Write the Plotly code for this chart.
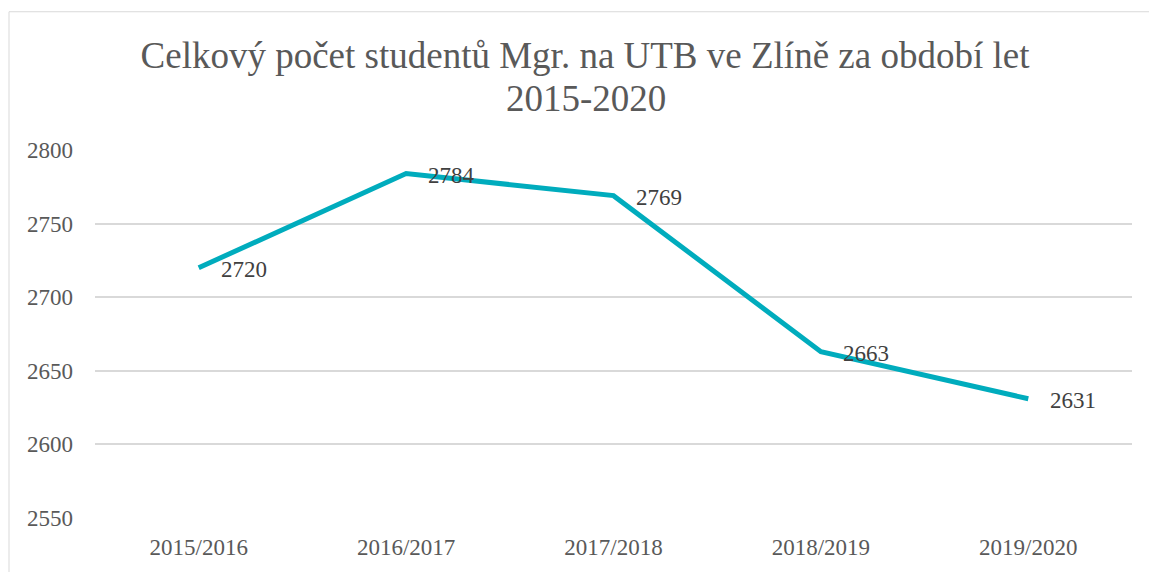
import plotly.graph_objects as go

years = ["2015/2016", "2016/2017", "2017/2018", "2018/2019", "2019/2020"]
students = [2720, 2784, 2769, 2663, 2631]
y_ticks = [2550, 2600, 2650, 2700, 2750, 2800]

title_line1 = "Celkový počet studentů Mgr. na UTB ve Zlíně za období let"
title_line2 = "2015-2020"

W, H = 1149, 572
ml, mr, mt, mb = 95, 17, 150, 52
pw = W - ml - mr
ph = H - mt - mb

fig = go.Figure()
fig.add_trace(go.Scatter(
    x=years, y=students, mode="lines",
    line=dict(color="#00ACBD", width=5),
    hoverinfo="skip", showlegend=False,
))

for xv, yv in zip(years, students):
    fig.add_annotation(
        x=xv, y=yv, text=str(yv), showarrow=False,
        xanchor="left", yanchor="middle", xshift=20, yshift=-2,
        font=dict(family="Liberation Serif", size=23, color="#404040"),
    )

# second title line
fig.add_annotation(
    xref="paper", yref="paper", x=(586 - ml) / pw, y=(mt + ph - 98) / ph,
    xanchor="center", yanchor="middle", showarrow=False,
    text=title_line2,
    font=dict(family="Liberation Serif", size=37, color="#595959"),
)

# outer chart border (left and top visible)
fig.add_shape(
    type="rect", xref="paper", yref="paper",
    x0=(9 - ml) / pw, x1=(W + 10 - ml) / pw,
    y0=-(H + 10 - (mt + ph)) / ph, y1=(mt + ph - 11) / ph,
    line=dict(color="#d9d9d9", width=1), fillcolor="rgba(0,0,0,0)", layer="below",
)

fig.update_layout(
    width=W, height=H,
    margin=dict(l=ml, r=mr, t=mt, b=mb),
    paper_bgcolor="white", plot_bgcolor="white",
    title=dict(
        text=title_line1, x=585 / W, xanchor="center",
        y=1 - 55 / H, yanchor="middle",
        font=dict(family="Liberation Serif", size=37, color="#595959"),
    ),
    xaxis=dict(
        type="category", range=[-0.5, len(years) - 0.5],
        showgrid=False, showline=False, zeroline=False, ticks="",
        ticklabelstandoff=13,
        tickfont=dict(family="Liberation Serif", size=23, color="#595959"),
    ),
    yaxis=dict(
        range=[2550, 2800], tickvals=y_ticks,
        showgrid=True, gridcolor="#d9d9d9", gridwidth=1.5,
        zeroline=False, showline=False, ticks="",
        ticklabelstandoff=21,
        tickfont=dict(family="Liberation Serif", size=23, color="#595959"),
    ),
)

fig.write_html(
    "out.html",
    config={"displayModeBar": False},
    post_script="document.body.style.margin='0';",
)
